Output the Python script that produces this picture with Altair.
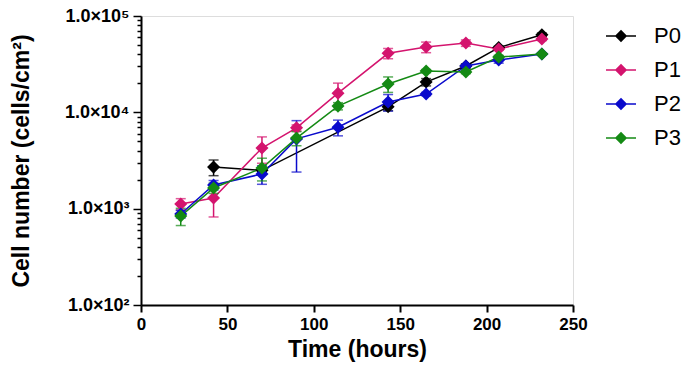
import altair as alt
import pandas as pd

# ---- data ----
SERIES = ["P0", "P1", "P2", "P3"]
COLORS = ["#000000", "#D4146E", "#0A0ACC", "#148A14"]

T_P0 = [42, 70, 143, 165, 188, 207, 232]
V_P0 = [2700, 2500, 11400, 20600, 30300, 47000, 64000]
E_P0 = [500, 150, 1000, 1800, 1500, 1500, 2500]

T_P1 = [23, 42, 70, 90, 114, 143, 165, 188, 207, 232]
V_P1 = [1120, 1290, 4260, 6900, 15800, 41000, 47600, 52400, 45500, 57600]
E_P1 = [150, 470, 1300, 500, 4300, 5000, 6000, 4000, 1500, 2000]

T_P2 = [23, 42, 70, 90, 114, 143, 165, 188, 207, 232]
V_P2 = [880, 1760, 2290, 5300, 7000, 12800, 15500, 30300, 34900, 40300]
E_P2 = [80, 200, 500, 2900, 1300, 2500, 600, 1000, 2500, 1000]

T_P3 = [23, 42, 70, 90, 114, 143, 165, 188, 207, 232]
V_P3 = [838, 1640, 2640, 5400, 11600, 19700, 26800, 26200, 37500, 40300]
E_P3 = [170, 200, 700, 900, 1000, 3600, 1000, 1000, 1500, 1000]

X_TICKS = [0, 50, 100, 150, 200, 250]
Y_MAJOR = [100, 1000, 10000, 100000]
Y_MAJOR_LABELS = ["1.0×10²", "1.0×10³", "1.0×10⁴", "1.0×10⁵"]
Y_MINOR = [m * 10 ** k for k in (2, 3, 4) for m in range(2, 10)]

rows = []
for name, ts, vs, es in [("P0", T_P0, V_P0, E_P0), ("P1", T_P1, V_P1, E_P1),
                         ("P2", T_P2, V_P2, E_P2), ("P3", T_P3, V_P3, E_P3)]:
    for t, v, e in zip(ts, vs, es):
        rows.append({"series": name, "time": t, "value": v,
                     "lo": v - e, "hi": v + e})
df = pd.DataFrame(rows)

FONT = "Liberation Sans"

label_expr = " : ".join(
    f"abs(datum.value - {v}) < 1e-6 ? '{l}'" for v, l in zip(Y_MAJOR, Y_MAJOR_LABELS)
) + " : ''"
major_test = " || ".join(f"abs(datum.value - {v}) < 1e-6" for v in Y_MAJOR)

color_scale = alt.Scale(domain=SERIES, range=COLORS)
x_enc = alt.X("time:Q", scale=alt.Scale(domain=[0, 250], nice=False),
              axis=alt.Axis(values=X_TICKS, title="Time (hours)", grid=False,
                            labelFont=FONT, labelFontSize=17, labelFontWeight="bold",
                            labelColor="black", labelPadding=4, labelFlush=False,
                            titleFont=FONT, titleFontSize=23, titleFontWeight="bold",
                            titleColor="black", titlePadding=6,
                            domainColor="black", domainWidth=2,
                            tickColor="black", tickWidth=2, tickSize=7))
y_scale = alt.Scale(type="log", domain=[100, 100000], nice=False)
y_enc = alt.Y("value:Q", scale=y_scale,
              axis=alt.Axis(values=Y_MAJOR + Y_MINOR, labelExpr=label_expr,
                            title="Cell number (cells/cm²)", grid=False,
                            labelFont=FONT, labelFontSize=18, labelFontWeight="bold",
                            labelColor="black", labelPadding=4,
                            labelOverlap=False, labelFlush=False,
                            titleFont=FONT, titleFontSize=23, titleFontWeight="bold",
                            titleColor="black", titlePadding=31,
                            domainColor="black", domainWidth=2,
                            tickColor="black", tickWidth=1.5,
                            tickSize={"condition": {"test": major_test, "value": 8},
                                      "value": 4}))

legend = alt.Legend(title=None, orient="none", legendX=464, legendY=4,
                    symbolType="M-1,0L1,0M0,-0.34L0.34,0L0,0.34L-0.34,0Z",
                    symbolSize=900, symbolStrokeWidth=1.5,
                    symbolFillColor=alt.ExprRef("scale('color', datum.value)"),
                    labelFont=FONT, labelFontSize=22, labelColor="black",
                    labelOffset=17, rowPadding=7)
color_enc = alt.Color("series:N", scale=color_scale, legend=legend)

base = alt.Chart(df)
lines = base.mark_line(strokeWidth=1.5).encode(x=x_enc, y=y_enc, color=color_enc)
bars = base.mark_rule(strokeWidth=1.5).encode(
    x="time:Q", y=alt.Y("lo:Q", scale=y_scale), y2="hi:Q",
    color=alt.Color("series:N", scale=color_scale, legend=None))
caps_lo = base.mark_tick(orient="horizontal", size=10, thickness=1.5).encode(
    x="time:Q", y=alt.Y("lo:Q", scale=y_scale),
    color=alt.Color("series:N", scale=color_scale, legend=None))
caps_hi = base.mark_tick(orient="horizontal", size=10, thickness=1.5).encode(
    x="time:Q", y=alt.Y("hi:Q", scale=y_scale),
    color=alt.Color("series:N", scale=color_scale, legend=None))
points = base.mark_point(shape="diamond", filled=True, size=170, opacity=1).encode(
    x="time:Q", y="value:Q",
    color=alt.Color("series:N", scale=color_scale, legend=None))

chart = alt.layer(lines, bars, caps_lo, caps_hi, points).properties(
    width=432, height=289,
    autosize=alt.AutoSizeParams(type="none"),
    padding={"left": 141, "top": 16, "right": 112, "bottom": 70},
).configure_view(stroke=None).configure(background="white")

chart.save("out.html", embed_options={"renderer": "svg", "actions": False})
